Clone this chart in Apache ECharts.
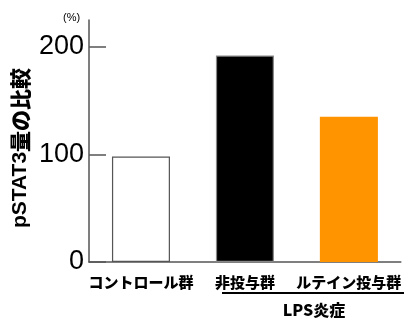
<!DOCTYPE html>
<html>
<head>
<meta charset="utf-8">
<script src="https://cdn.jsdelivr.net/npm/echarts@6/dist/echarts.min.js"></script>
<style>
  html, body { margin: 0; padding: 0; background: #fff; }
  #chart { width: 404px; height: 320px; }
</style>
</head>
<body>
<div id="chart"></div>
<script>
// カテゴリと値
var categories = ['コントロール群', '非投与群', 'ルテイン投与群']
var values = [98, 192, 135]
var barColors = ['#ffffff', '#000000', '#ff9300']
var barBorders = ['#555555', '#888888', '#ff9300']
var yTicks = [0, 100, 200]

var jp = '"Noto Sans CJK JP", sans-serif'
var latin = '"Liberation Sans", Arial, sans-serif'

var chart = echarts.init(document.getElementById('chart'))

var option = {
  animation: false,
  grid: { left: 89, right: 1, top: 20, bottom: 58 },
  xAxis: {
    type: 'category',
    data: categories,
    axisLine: { lineStyle: { color: '#555', width: 1.5 } },
    axisTick: { show: false },
    axisLabel: {
      interval: 0,
      hideOverlap: false,
      margin: 13,
      fontSize: 15,
      fontWeight: 900,
      color: '#000',
      fontFamily: jp
    }
  },
  yAxis: {
    type: 'value',
    min: 0,
    max: 225,
    splitLine: { show: false },
    axisLine: { show: true, lineStyle: { color: '#555', width: 1.5 } },
    axisTick: {
      show: true,
      inside: true,
      length: 17,
      customValues: yTicks,
      lineStyle: { color: '#555', width: 1.5 }
    },
    axisLabel: {
      customValues: yTicks,
      margin: 5,
      fontSize: 27,
      color: '#000',
      fontFamily: latin
    }
  },
  series: [{
    type: 'bar',
    barWidth: 58,
    data: values.map(function (v, i) {
      return {
        value: v,
        itemStyle: { color: barColors[i], borderColor: barBorders[i], borderWidth: 1.2 }
      }
    })
  }],
  graphic: [
    {
      type: 'text',
      left: 63,
      top: 12,
      style: { text: '(%)', fontSize: 11, fill: '#000', fontFamily: latin }
    },
    {
      type: 'text',
      x: 20,
      y: 148,
      rotation: Math.PI / 2,
      style: {
        text: '{a|pSTAT3}{b|量の比較}',
        align: 'center',
        verticalAlign: 'middle',
        rich: {
          a: { fontSize: 21, fontWeight: 'bold', fontFamily: latin, fill: '#000' },
          b: { fontSize: 21, fontWeight: 900, fontFamily: jp, fill: '#000' }
        }
      }
    },
    {
      type: 'line',
      shape: { x1: 222, y1: 293, x2: 404, y2: 293 },
      style: { stroke: '#000', lineWidth: 2 }
    },
    {
      type: 'text',
      x: 314,
      y: 310,
      style: {
        text: 'LPS炎症',
        align: 'center',
        verticalAlign: 'middle',
        fontSize: 16,
        fontWeight: 900,
        fontFamily: jp,
        fill: '#000'
      }
    }
  ]
}

chart.setOption(option)
</script>
</body>
</html>
